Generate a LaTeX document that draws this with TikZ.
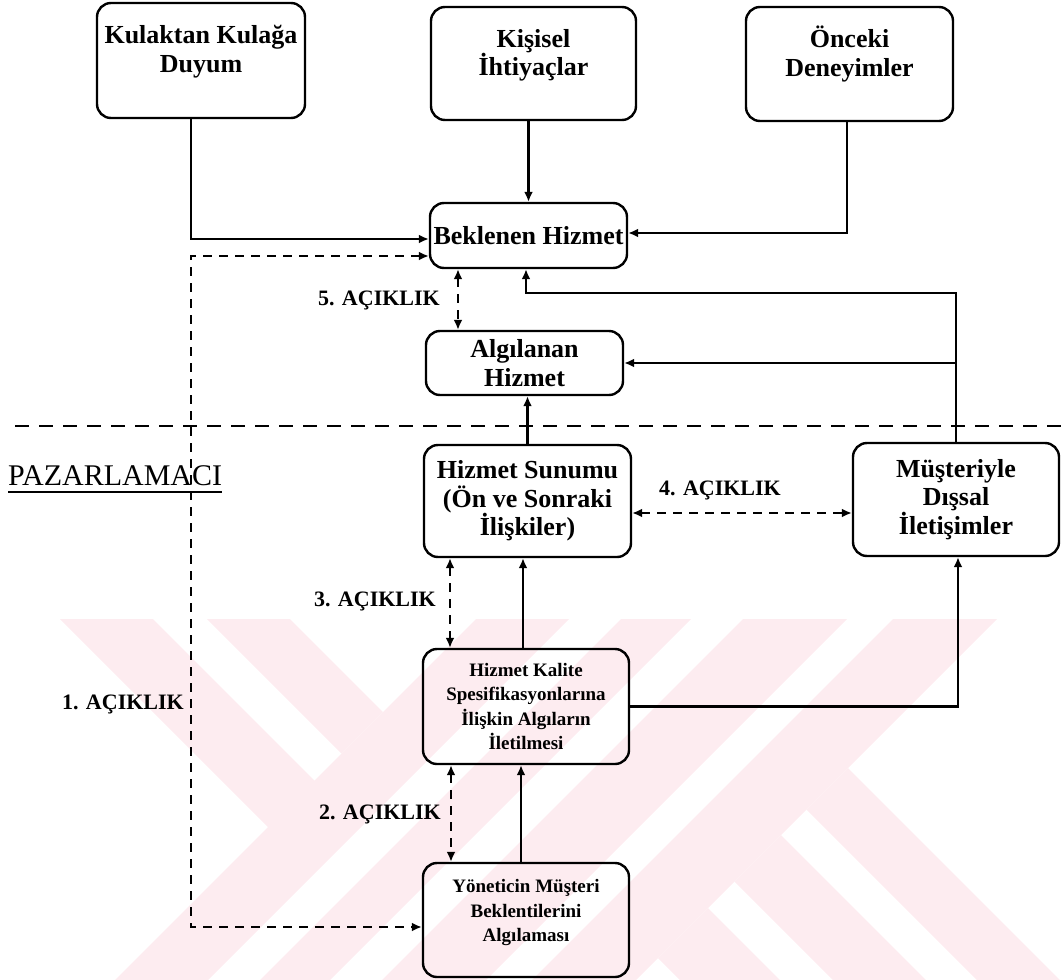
\documentclass[tikz,border=0pt]{standalone}
\usepackage{fontspec}
\setmainfont{Liberation Serif}
\usetikzlibrary{arrows.meta,calc}
\definecolor{wmpink}{RGB}{253,236,240}
\tikzset{
  box/.style={draw, line width=2.4pt, rounded corners=14pt, inner sep=0pt},
  boxtext/.style={font=\bfseries\fontsize{26}{28.5}\selectfont, align=center, inner sep=0pt},
  smalltext/.style={font=\bfseries\fontsize{19}{24.5}\selectfont, align=center, inner sep=0pt},
  conn/.style={line width=2.1pt, -{Latex[length=10pt,width=9pt]}},
  gap/.style={line width=2.1pt, dash pattern=on 9pt off 7pt,
              {Latex[length=10pt,width=9pt]}-{Latex[length=10pt,width=9pt]}},
  gaplabel/.style={font=\bfseries\fontsize{22}{24}\selectfont, inner sep=0pt}
}
\begin{document}
\begin{tikzpicture}[x=1pt,y=-1pt]
\useasboundingbox (0,0) rectangle (1061,980);

% faint background stripes in the lower part of the page
\begin{scope}
  \clip (0,619) rectangle (1061,980);
  \fill[wmpink] (60,619) -- (153,619) -- (361,827) -- (268,827) -- cycle;
  \fill[wmpink] (207,619) -- (290,619) -- (383,712) -- (341.5,753.5) -- cycle;
  \foreach \ua/\ub in {1095/1188, 1240/1310, 1362/1466, 1512/1616}
    \fill[wmpink] (\ua-600,600) -- (\ub-600,600) -- (\ub-1000,1000) -- (\ua-1000,1000) -- cycle;
  \foreach \va/\vb in {-3/80, -147/-54, -300/-200}
    \fill[wmpink] ({(1616+\vb)/2},{(1616-\vb)/2}) -- (\vb+1100,1100)
                  -- (\va+1100,1100) -- ({(1616+\va)/2},{(1616-\va)/2}) -- cycle;
\end{scope}

% boxes
\node[box, minimum width=208pt, minimum height=115pt] (kul) at (201,60.5) {};
\node[boxtext] (kult) at ($(kul.center)+(0,-9)$) {Kulaktan Kulağa\\Duyum};
\node[box, minimum width=205pt, minimum height=113pt] (kis) at (533.5,63.5) {};
\node[boxtext] (kist) at ($(kis.center)+(0,-8)$) {Kişisel\\İhtiyaçlar};
\node[box, minimum width=207pt, minimum height=114pt] (onc) at (849.5,64) {};
\node[boxtext] (onct) at ($(onc.center)+(0,-10)$) {Önceki\\Deneyimler};

\node[box, boxtext, minimum width=197pt, minimum height=65pt] (bek) at (528.5,235.5) {Beklenen Hizmet};
\node[box, boxtext, minimum width=197pt, minimum height=64pt] (alg) at (524.5,363) {Algılanan\\Hizmet};
\node[box, boxtext, minimum width=207pt, minimum height=112pt] (sun) at (527.5,501) {Hizmet Sunumu\\(Ön ve Sonraki\\İlişkiler)};
\node[box, boxtext, minimum width=206pt, minimum height=113pt] (mus) at (956,499.5) {Müşteriyle\\Dışsal\\İletişimler};
\node[box, smalltext, minimum width=206pt, minimum height=115pt] (kal) at (526,706.5) {Hizmet Kalite\\Spesifikasyonlarına\\İlişkin Algıların\\İletilmesi};
\node[box, minimum width=206pt, minimum height=114pt] (yon) at (526,920) {};
\node[smalltext] (yont) at ($(yon.center)+(0,-7.5)$) {Yöneticin Müşteri\\Beklentilerini\\Algılaması};

% marketer side
\node[font=\fontsize{30}{32}\selectfont, anchor=base west, inner sep=0pt] (paz) at (8,485) {PAZARLAMACI};
\draw[line width=2.2pt] ($(paz.base west)+(0,7)$) -- ($(paz.base east)+(0,7)$);
\draw[line width=2.1pt, dash pattern=on 14pt off 10pt] (15,426) -- (1061,426);

% helper coordinates for vertical and horizontal runs
\coordinate (c1) at (191,600);
\coordinate (x5) at (458,0);
\coordinate (x3) at (450,0);
\coordinate (x2) at (451,0);
\coordinate (xk) at (523,0);
\coordinate (xy) at (521,0);
\coordinate (y4) at (0,513);
\coordinate (y6) at (0,293);

% solid connectors
\draw[conn] ($(kul.south)+(-10,0)$) |- ($(bek.west)+(0,3.5)$);
\draw[conn] (kis.south -| bek.north) -- (bek.north);
\draw[conn] ($(onc.south)+(-2.5,0)$) |- ($(bek.east)+(0,-2.5)$);
\draw[conn] (mus.north) -- (mus.north |- y6) -| ($(bek.south)+(-2.5,0)$);
\draw[conn] (mus.north |- alg.east) -- (alg.east);
\draw[conn] (sun.north) -- (sun.north |- alg.south);
\draw[conn] (kal.north -| xk) -- (sun.south -| xk);
\draw[conn] (kal.east) -| ($(mus.south)+(2,0)$);
\draw[conn] (yon.north -| xy) -- (kal.south -| xy);

% gaps
\draw[gap] ($(bek.west)+(0,20.5)$) -| (c1) |- ($(yon.west)+(0,7)$);
\draw[gap] (bek.south -| x5) -- (alg.north -| x5);
\draw[gap] (sun.east |- y4) -- (mus.west |- y4);
\draw[gap] (sun.south -| x3) -- (kal.north -| x3);
\draw[gap] (kal.south -| x2) -- (yon.north -| x2);

\node[gaplabel, anchor=east] (g1) at (184,704) {1. AÇIKLIK};
\node[gaplabel, anchor=east] (g2) at (441,814) {2. AÇIKLIK};
\node[gaplabel, anchor=east] (g3) at (436,601) {3. AÇIKLIK};
\node[gaplabel] (g4) at (720,490) {4. AÇIKLIK};
\node[gaplabel, anchor=east] (g5) at (440,300) {5. AÇIKLIK};
\end{tikzpicture}
\end{document}
